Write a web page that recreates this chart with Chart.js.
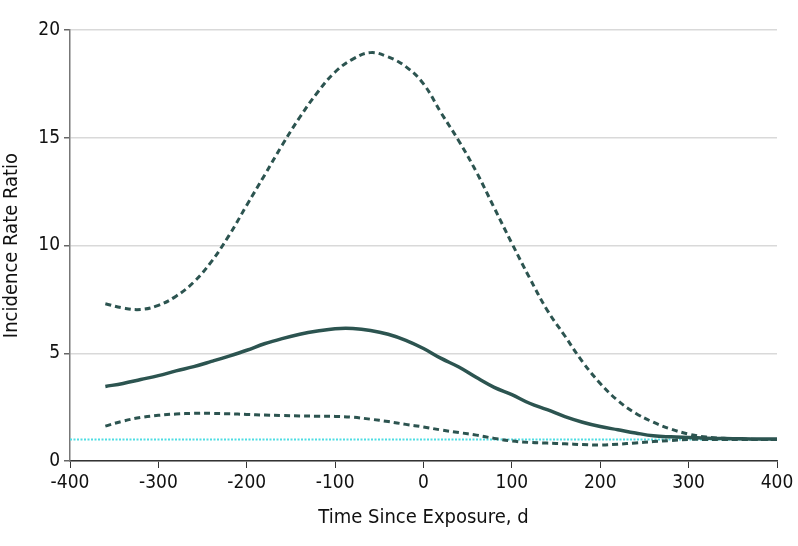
<!DOCTYPE html>
<html>
<head>
<meta charset="utf-8">
<script src="https://cdn.jsdelivr.net/npm/chart.js@4"></script>
<style>
  html, body { margin: 0; padding: 0; background: #fff; }
  #wrap { width: 798px; height: 546px; }
</style>
</head>
<body>
<div id="wrap"><canvas id="irrChart"></canvas></div>
<script>
const days = [-360, -340, -320, -300, -280, -260, -240, -220, -200, -180, -160, -140, -120, -100, -80, -60, -40, -20,
  0, 20, 40, 60, 80, 100, 120, 140, 160, 180, 200, 220, 240, 260, 280, 300, 320, 340, 360, 380, 400];
const upperCI = [7.3, 7.1, 7.03, 7.22, 7.65, 8.3, 9.25, 10.47, 11.87, 13.25, 14.65, 15.95, 17.1, 18.05, 18.65, 18.95, 18.75, 18.3,
  17.5, 16.15, 14.85, 13.4, 11.75, 10.1, 8.5, 7.0, 5.8, 4.6, 3.6, 2.8, 2.22, 1.8, 1.48, 1.25, 1.11, 1.05, 1.02, 1.0, 1.0];
const estimate = [3.46, 3.6, 3.78, 3.96, 4.18, 4.38, 4.62, 4.87, 5.14, 5.44, 5.68, 5.88, 6.03, 6.14, 6.15, 6.06, 5.88, 5.6,
  5.22, 4.76, 4.36, 3.87, 3.42, 3.08, 2.68, 2.38, 2.06, 1.8, 1.6, 1.45, 1.3, 1.17, 1.12, 1.09, 1.06, 1.04, 1.03, 1.02, 1.02];
const lowerCI = [1.62, 1.85, 2.02, 2.12, 2.18, 2.21, 2.21, 2.19, 2.16, 2.13, 2.11, 2.09, 2.08, 2.07, 2.03, 1.94, 1.83, 1.7,
  1.58, 1.44, 1.32, 1.2, 1.05, 0.93, 0.86, 0.83, 0.8, 0.76, 0.74, 0.78, 0.84, 0.9, 0.95, 1.0, 1.0, 1.0, 1.0, 1.0, 1.0];
const refDays = [-400, 400];
const refLine = [1, 1];

const dark = '#2c5450';
const fontFam = "'Liberation Sans Narrow', 'DejaVu Sans Condensed', 'Open Sans', sans-serif";
const pts = (xs, ys) => xs.map((x, i) => ({x, y: ys[i]}));

new Chart(document.getElementById('irrChart'), {
  type: 'line',
  data: {
    datasets: [
      {data: pts(days, upperCI), borderColor: dark, borderWidth: 3, borderDash: [6, 4], tension: 0.4, pointRadius: 0},
      {data: pts(days, estimate), borderColor: dark, borderWidth: 3.5, tension: 0.4, pointRadius: 0},
      {data: pts(days, lowerCI), borderColor: dark, borderWidth: 3, borderDash: [6, 4], tension: 0.4, pointRadius: 0},
      {data: pts(refDays, refLine), borderColor: '#4fdde3', borderWidth: 2, borderDash: [2, 1.5], pointRadius: 0}
    ]
  },
  options: {
    responsive: true, maintainAspectRatio: false, animation: false,
    layout: { padding: { left: 0, right: 21, top: 30, bottom: 0 } },
    plugins: { legend: { display: false }, tooltip: { enabled: false } },
    scales: {
      x: {
        type: 'linear', min: -400, max: 400,
        ticks: { stepSize: 100, color: '#111', font: { family: fontFam, size: 19 }, padding: 4, maxRotation: 0 },
        grid: { drawOnChartArea: false, tickLength: 7, tickColor: '#333' },
        border: { color: '#333', width: 1.5 },
        title: { display: true, text: 'Time Since Exposure, d', color: '#111', font: { family: fontFam, size: 20 }, padding: { top: 4, bottom: 16 } },
        afterFit: s => { s.height = 85; }
      },
      y: {
        min: 0, max: 20,
        ticks: { stepSize: 5, color: '#111', font: { family: fontFam, size: 19 }, padding: 4 },
        grid: { color: '#d9d9d9', lineWidth: 1.5, tickLength: 6, tickColor: '#666' },
        border: { color: '#777', width: 1.5 },
        title: { display: true, text: 'Incidence Rate Ratio', color: '#111', font: { family: fontFam, size: 20 }, padding: { top: 0, bottom: 4 } },
        afterFit: s => { s.width = 70; }
      }
    }
  }
});
</script>
</body>
</html>
